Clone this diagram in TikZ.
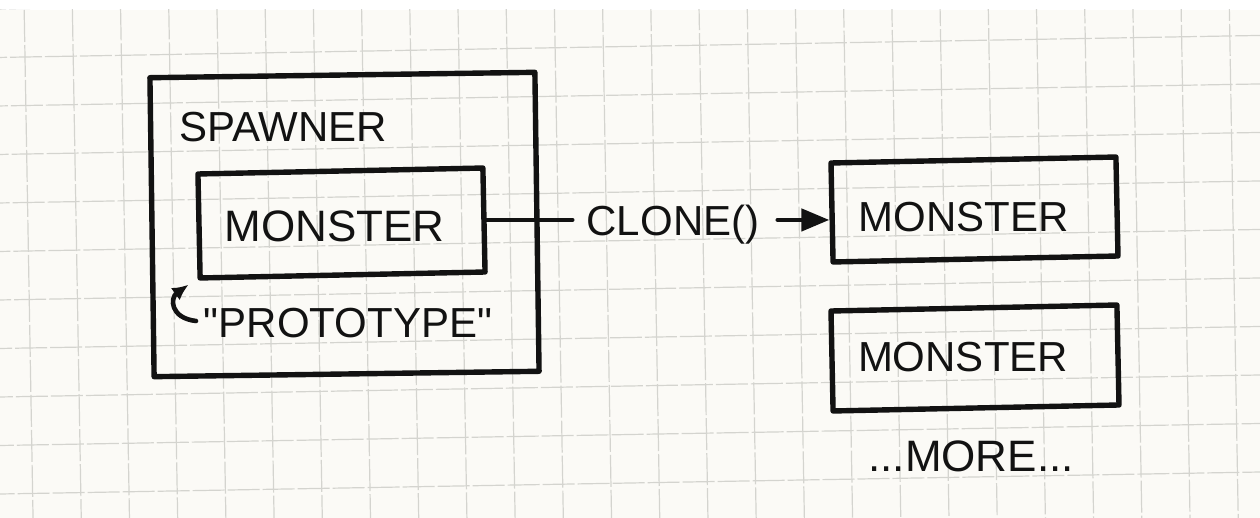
\documentclass[tikz,border=0pt]{standalone}
\usepackage{fontspec}
\setmainfont{Liberation Sans}[Ligatures=TeXOff]
\usetikzlibrary{arrows.meta}
\definecolor{paper}{RGB}{251,250,246}
\definecolor{gridline}{RGB}{212,212,207}
\definecolor{ink}{RGB}{18,18,18}
\begin{document}
\begin{tikzpicture}[x=0.5pt,y=-0.5pt,
  box/.style={draw=ink, line width=2.7pt, line join=round, inner sep=0pt, shape=rectangle},
  lbl/.style={font=\fontsize{21}{21}\selectfont, text=ink, inner sep=0pt, anchor=base},
  link/.style={draw=ink, line width=2.3pt, line cap=round},
  gridrule/.style={draw=gridline, line width=0.6pt, dash pattern=on 16pt off 1.5pt}]

\useasboundingbox (0,0) rectangle (1260,518);
\fill[white] (0,0) rectangle (1260,518);

% squared paper, slightly skewed
\begin{scope}
  \clip (0,10) rectangle (1260,518);
  \fill[paper] (0,10) rectangle (1260,518);
  \begin{scope}[rotate around={1:(25,57)}]
    \foreach \k in {-2,...,11}
      \draw[gridrule] (-60,57+48.5*\k) -- (1330,57+48.5*\k);
    \foreach \k in {-2,...,27}
      \draw[gridrule] (25+48.2*\k,-60) -- (25+48.2*\k,580);
  \end{scope}
\end{scope}

% boxes
\node[box, rotate=0.8, minimum width=192.5pt, minimum height=149.5pt] (spawner) at (344.5,224.5) {};
\node[box, rotate=1.2, minimum width=142.5pt, minimum height=52pt] (proto) at (341.5,223) {};
\node[box, rotate=1.2, minimum width=142.5pt, minimum height=49.5pt] (copyA) at (974.5,209.5) {};
\node[box, rotate=1.2, minimum width=143pt, minimum height=50pt] (copyB) at (975,358) {};

% labels
\node[lbl] (spawnerlbl) at (283,142) {SPAWNER};
\node[lbl, font=\fontsize{22}{22}\selectfont] (protolbl) at (334.5,242) {MONSTER};
\node[lbl] (prototag) at (348,338) {"PROTOTYPE"};
\node[lbl] (clonelbl) at (673,236) {CLONE()};
\node[lbl] (copyAlbl) at (963.5,232) {MONSTER};
\node[lbl] (copyBlbl) at (963,372) {MONSTER};
\node[lbl, font=\fontsize{22}{22}\selectfont] (morelbl) at (971,472) {...MORE...};

% clone() connector
\draw[link, shorten >=7pt] (proto.east) -- (proto.east -| clonelbl.west);
\draw[link, shorten <=9pt, -{Triangle[length=14pt,width=11pt]}]
  (clonelbl.east |- proto.east) -- (copyA.west |- proto.east);

% curl pointing at the prototype
\coordinate (curlstart) at (196,321);
\draw[link, -{Latex[length=8pt,width=7.5pt]}]
  (curlstart) .. controls (170,318) and (170,298) .. ([shift={(-9,4)}]proto.south west);

\end{tikzpicture}
\end{document}
